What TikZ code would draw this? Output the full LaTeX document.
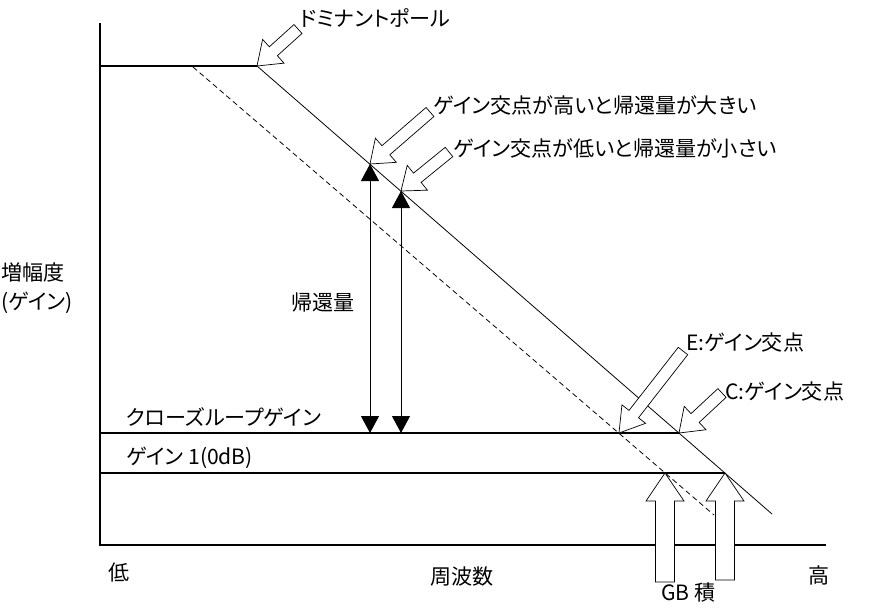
\documentclass[tikz,border=0pt]{standalone}
\usepackage{fontspec}
\setmainfont{Noto Sans CJK JP}[RawFeature=+palt]
\usetikzlibrary{arrows.meta,calc}

% hollow block arrow: tail, tip, head length, head half width, shaft half width
\newcommand{\hollowarrow}[5]{%
  \draw[hollow] let \p1=($(#1)-(#2)$), \n1={atan2(\y1,\x1)} in
    (#2) -- ($(#2)+(\n1:#3)+({\n1+90}:#4)$) -- ($(#2)+(\n1:#3)+({\n1+90}:#5)$)
    -- ($(#1)+({\n1+90}:#5)$) -- ($(#1)+({\n1-90}:#5)$)
    -- ($(#2)+(\n1:#3)+({\n1-90}:#5)$) -- ($(#2)+(\n1:#3)+({\n1-90}:#4)$) -- cycle;}

\begin{document}
\begin{tikzpicture}
                \tikzset{x={(0.02cm, 0cm)}, y={(0cm, -0.02cm)}}
                \tikzset{lbl/.style={inner sep=0pt, anchor=west, font=\fontsize{12}{14}\selectfont},
                         hollow/.style={draw, fill=white, line width=0.4pt},
                         fb/.style={{Triangle[length=0.34cm,width=0.36cm]}-{Triangle[length=0.34cm,width=0.36cm]}, line width=0.5pt}}
                \useasboundingbox (0,0) rectangle (877,609);
                % points
                \coordinate (top) at (100,23);
                \coordinate (O) at (100,545);
                \coordinate (xend) at (826,545);
                \coordinate (olstart) at (100,66);
                \coordinate (dom) at (257,66);
                \coordinate (olend) at (772,514);
                \coordinate (dstart) at (193,67);
                \coordinate (dend) at (714,515);
                \coordinate (clstart) at (100,433);
                \coordinate (C) at (679,433);
                \coordinate (E) at (619,433);
                \coordinate (gstart) at (100,473);
                \coordinate (gb2) at (725,473);
                \coordinate (gb1) at (665,473);
                \coordinate (hi) at (370,164);
                \coordinate (hibase) at (370,433);
                \coordinate (lo) at (401,191);
                \coordinate (lobase) at (401,433);
                % axes and gain lines
                \draw[line width=0.75pt] (top) -- (O) -- (xend);
                \draw[line width=0.6pt] (olstart) -- (dom);
                \draw[line width=0.45pt] (dom) -- (olend);
                \draw[line width=0.45pt, dash pattern=on 3pt off 2pt] (dstart) -- (dend);
                \draw[line width=0.6pt] (clstart) -- (C);
                \draw[line width=0.6pt] (gstart) -- (gb2);
                % feedback
                \draw[fb] (hi) -- (hibase);
                \draw[fb] (lo) -- (lobase);
                % labels
                \node[lbl] (domlbl) at (300,18) {ドミナントポール};
                \node[lbl] (hilbl) at (433,105) {ゲイン交点が高いと帰還量が大きい};
                \node[lbl] (lolbl) at (453,148) {ゲイン交点が低いと帰還量が小さい};
                \node[lbl] (fblbl) at (291,302) {帰還量};
                \node[lbl] (ylbl) at (1,272) {増幅度};
                \node[lbl] (ylbl2) at (1,303) {(ゲイン)};
                \node[lbl] (cllbl) at (126,417) {クローズループゲイン};
                \node[lbl] (glbl) at (126,458) {ゲイン 1(0dB)};
                \node[lbl] (lowlbl) at (108,573) {低};
                \node[lbl] (freqlbl) at (430,577) {周波数};
                \node[lbl] (highlbl) at (808,575) {高};
                \node[lbl] (gblbl) at (661,593) {GB 積};
                \node[lbl] (Elbl) at (686,343) {E:ゲイン交点};
                \node[lbl] (Clbl) at (725,392) {C:ゲイン交点};
                % hollow arrows
                \coordinate (domtail) at (298,29);
                \coordinate (hitail) at (430,112);
                \coordinate (lotail) at (449,152);
                \coordinate (Etail) at (683,351);
                \coordinate (Ctail) at (722,393);
                \coordinate (gb1tail) at (665,582);
                \coordinate (gb2tail) at (725,580);
                \hollowarrow{domtail}{dom}{0.44cm}{0.32cm}{0.12cm}
                \hollowarrow{hitail}{hi}{0.42cm}{0.32cm}{0.12cm}
                \hollowarrow{lotail}{lo}{0.42cm}{0.32cm}{0.12cm}
                \hollowarrow{Etail}{E}{0.48cm}{0.30cm}{0.12cm}
                \hollowarrow{Ctail}{C}{0.44cm}{0.32cm}{0.12cm}
                \hollowarrow{gb1tail}{gb1}{0.56cm}{0.38cm}{0.19cm}
                \hollowarrow{gb2tail}{gb2}{0.56cm}{0.38cm}{0.19cm}
            \end{tikzpicture}
\end{document}
